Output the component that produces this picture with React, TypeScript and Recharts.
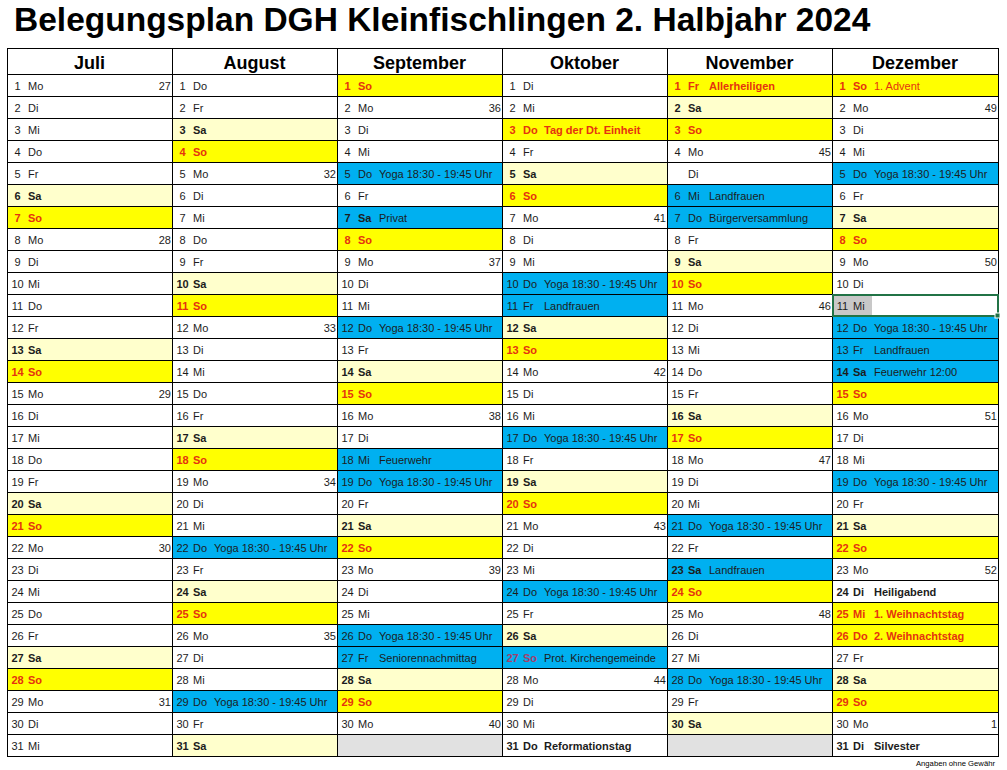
import { ScatterChart, Scatter, XAxis, YAxis } from "recharts";

const MONTHS = ["Juli", "August", "September", "Oktober", "November", "Dezember"];
const DAYS_IN_MONTH = [31, 31, 30, 31, 30, 31];

// weekday of each day, one string per month
const WEEKDAYS = [
  "Mo Di Mi Do Fr Sa So Mo Di Mi Do Fr Sa So Mo Di Mi Do Fr Sa So Mo Di Mi Do Fr Sa So Mo Di Mi",
  "Do Fr Sa So Mo Di Mi Do Fr Sa So Mo Di Mi Do Fr Sa So Mo Di Mi Do Fr Sa So Mo Di Mi Do Fr Sa",
  "So Mo Di Mi Do Fr Sa So Mo Di Mi Do Fr Sa So Mo Di Mi Do Fr Sa So Mo Di Mi Do Fr Sa So Mo",
  "Di Mi Do Fr Sa So Mo Di Mi Do Fr Sa So Mo Di Mi Do Fr Sa So Mo Di Mi Do Fr Sa So Mo Di Mi Do",
  "Fr Sa So Mo Di Mi Do Fr Sa So Mo Di Mi Do Fr Sa So Mo Di Mi Do Fr Sa So Mo Di Mi Do Fr Sa",
  "So Mo Di Mi Do Fr Sa So Mo Di Mi Do Fr Sa So Mo Di Mi Do Fr Sa So Mo Di Mi Do Fr Sa So Mo Di",
];

// [month, day, calendar week]
const WEEK_NUMBERS: [number, number, number][] = [
  [0, 1, 27], [0, 8, 28], [0, 15, 29], [0, 22, 30], [0, 29, 31],
  [1, 5, 32], [1, 12, 33], [1, 19, 34], [1, 26, 35],
  [2, 2, 36], [2, 9, 37], [2, 16, 38], [2, 23, 39], [2, 30, 40],
  [3, 7, 41], [3, 14, 42], [3, 21, 43], [3, 28, 44],
  [4, 4, 45], [4, 11, 46], [4, 18, 47], [4, 25, 48],
  [5, 2, 49], [5, 9, 50], [5, 16, 51], [5, 23, 52], [5, 30, 1],
];

const YOGA = "Yoga 18:30 - 19:45 Uhr";

// [month, day, text] - booked days (blue)
const BOOKINGS: [number, number, string][] = [
  [1, 22, YOGA], [1, 29, YOGA],
  [2, 5, YOGA], [2, 7, "Privat"], [2, 12, YOGA], [2, 18, "Feuerwehr"], [2, 19, YOGA],
  [2, 26, YOGA], [2, 27, "Seniorennachmittag"],
  [3, 10, YOGA], [3, 11, "Landfrauen"], [3, 17, YOGA], [3, 24, YOGA], [3, 27, "Prot. Kirchengemeinde"],
  [4, 6, "Landfrauen"], [4, 7, "Bürgerversammlung"], [4, 21, YOGA], [4, 23, "Landfrauen"], [4, 28, YOGA],
  [5, 5, YOGA], [5, 12, YOGA], [5, 13, "Landfrauen"], [5, 14, "Feuerwehr 12:00"], [5, 19, YOGA],
];

const HOLIDAYS: [number, number, string][] = [
  [3, 3, "Tag der Dt. Einheit"],
  [4, 1, "Allerheiligen"],
  [5, 25, "1. Weihnachtstag"],
  [5, 26, "2. Weihnachtstag"],
];
const SUNDAY_NOTES: [number, number, string][] = [[5, 1, "1. Advent"]];
const SPECIAL_DAYS: [number, number, string][] = [
  [3, 31, "Reformationstag"],
  [5, 24, "Heiligabend"],
  [5, 31, "Silvester"],
];
const NO_DAY_NUMBER: [number, number][] = [[4, 5]];
const SELECTED: [number, number][] = [[5, 11]];

const FONT = "'Liberation Sans', Arial, sans-serif";
const CHART_W = 1007;
const CHART_H = 770;
const PLOT_LEFT = 7;
const PLOT_TOP = 74;
const PLOT_W = 991;
const PLOT_H = 682;
const HEADER_H = 26;
const CELL_W = PLOT_W / MONTHS.length;
const CELL_H = PLOT_H / 31;

const BLUE = "#00b0f0";
const YELLOW = "#ffff00";
const PALE = "#ffffcc";
const RED = "#e5330f";
const INK = "#1c1c1c";

type Kind = "plain" | "sat" | "sun" | "booked" | "holiday" | "special" | "empty";

interface DayCell {
  x: number;
  y: number;
  day: number;
  weekday: string;
  note: string;
  week: string;
  kind: Kind;
  showDay: boolean;
  selected: boolean;
}

const find = <T extends [number, number, ...any[]]>(list: T[], m: number, d: number) =>
  list.find((e) => e[0] === m && e[1] === d);

const cells: DayCell[] = MONTHS.flatMap((_, m) => {
  const wd = WEEKDAYS[m].split(" ");
  return Array.from({ length: 31 }, (_, i) => {
    const day = i + 1;
    const weekday = wd[i] ?? "";
    let kind: Kind = weekday === "Sa" ? "sat" : weekday === "So" ? "sun" : "plain";
    let note = "";
    const booking = find(BOOKINGS, m, day);
    const holiday = find(HOLIDAYS, m, day);
    const special = find(SPECIAL_DAYS, m, day);
    const sundayNote = find(SUNDAY_NOTES, m, day);
    if (booking) { kind = "booked"; note = booking[2]; }
    if (holiday) { kind = "holiday"; note = holiday[2]; }
    if (special) { kind = "special"; note = special[2]; }
    if (sundayNote) note = sundayNote[2];
    if (day > DAYS_IN_MONTH[m]) kind = "empty";
    const wk = find(WEEK_NUMBERS, m, day);
    return {
      x: m + 0.5,
      y: i + 0.5,
      day,
      weekday,
      note,
      week: wk ? String(wk[2]) : "",
      kind,
      showDay: !find(NO_DAY_NUMBER, m, day),
      selected: !!find(SELECTED, m, day),
    };
  });
});

const selection = cells.filter((c) => c.selected);

const FILLS: Record<Kind, string> = {
  plain: "#ffffff",
  sat: PALE,
  sun: YELLOW,
  booked: BLUE,
  holiday: YELLOW,
  special: "#ffffff",
  empty: "#e1e1e1",
};

function box(cx: number, cy: number) {
  const left = Math.floor(cx - CELL_W / 2 + 0.01);
  const right = Math.floor(cx + CELL_W / 2 + 0.01);
  const top = Math.round(cy - CELL_H / 2);
  return { left, right, top };
}

function FillShape(props: any) {
  const { cx, cy, payload } = props;
  const c = payload as DayCell;
  const { left, right, top } = box(cx, cy);
  return (
    <g>
      <rect x={left} y={top} width={right - left} height={CELL_H} fill={FILLS[c.kind]} />
      {c.selected && <rect x={left + 1} y={top + 2} width={39} height={19} fill="#c8c8c8" />}
    </g>
  );
}

function TextShape(props: any) {
  const { cx, cy, payload } = props;
  const c = payload as DayCell;
  const { left, right, top } = box(cx, cy);
  const base = top + 16;
  if (c.kind === "empty") {
    return <rect x={left + 0.5} y={top + 0.5} width={right - left} height={CELL_H} fill="none" stroke="#000" />;
  }
  const weekend = c.weekday === "Sa" || c.weekday === "So";
  const boldLabel = weekend || c.kind === "holiday" || c.kind === "special";
  let labelColor = INK;
  if (c.weekday === "So" || c.kind === "holiday") labelColor = RED;
  if (c.kind === "booked" && c.weekday === "So") labelColor = "#a23f6c";
  const noteBold = c.kind === "holiday" || c.kind === "special";
  const noteColor = c.kind === "holiday" || c.kind === "sun" ? RED : INK;
  const fw = boldLabel ? 700 : 400;
  return (
    <g fontFamily={FONT} fontSize={11}>
      <rect x={left + 0.5} y={top + 0.5} width={right - left} height={CELL_H} fill="none" stroke="#000" />
      {c.showDay && (
        <text x={left + 10.5} y={base} textAnchor="middle" fontWeight={fw} fill={labelColor}>
          {c.day}
        </text>
      )}
      <text x={left + 21} y={base} fontWeight={fw} fill={labelColor}>
        {c.weekday}
      </text>
      {c.note && (
        <text x={left + 42} y={base} fontWeight={noteBold ? 700 : 400} fill={noteColor}>
          {c.note}
        </text>
      )}
      {c.week && (
        <text x={right - 1} y={base} textAnchor="end" fill={INK}>
          {c.week}
        </text>
      )}
    </g>
  );
}

function SelectionShape(props: any) {
  const { cx, cy } = props;
  const { left, right, top } = box(cx, cy);
  return (
    <g>
      <rect x={left + 1} y={top + 1} width={right - left - 1} height={CELL_H - 1} fill="none" stroke="#217346" strokeWidth={2} />
      <rect x={right - 3} y={top + CELL_H - 3} width={5} height={5} fill="#217346" stroke="#fff" strokeWidth={1} />
    </g>
  );
}

function HeaderTick(props: any) {
  const { x, payload } = props;
  const left = Math.floor(x - CELL_W / 2 + 0.01);
  const right = Math.floor(x + CELL_W / 2 + 0.01);
  const idx = Math.round(payload.value - 0.5);
  return (
    <g>
      <rect x={left + 0.5} y={PLOT_TOP - HEADER_H + 0.5} width={right - left} height={HEADER_H} fill="#fff" stroke="#000" />
      <text x={(left + right) / 2} y={PLOT_TOP - 5.5} textAnchor="middle" fontFamily={FONT} fontWeight={700} fontSize={18} fill="#000">
        {MONTHS[idx]}
      </text>
    </g>
  );
}

export default function App() {
  return (
    <div style={{ position: "absolute", left: 0, top: 0, width: CHART_W, height: CHART_H, background: "#fff" }}>
      <ScatterChart
        width={CHART_W}
        height={CHART_H}
        margin={{ top: PLOT_TOP - HEADER_H, right: CHART_W - PLOT_LEFT - PLOT_W, bottom: CHART_H - PLOT_TOP - PLOT_H, left: PLOT_LEFT }}
      >
        <XAxis
          type="number"
          dataKey="x"
          orientation="top"
          domain={[0, MONTHS.length]}
          ticks={MONTHS.map((_, i) => i + 0.5)}
          interval={0}
          height={HEADER_H}
          axisLine={false}
          tickLine={false}
          tick={<HeaderTick />}
        />
        <YAxis type="number" dataKey="y" domain={[0, 31]} reversed hide width={0} />
        <Scatter data={cells} shape={<FillShape />} isAnimationActive={false} />
        <Scatter data={cells} shape={<TextShape />} isAnimationActive={false} />
        <Scatter data={selection} shape={<SelectionShape />} isAnimationActive={false} />
      </ScatterChart>
      <svg width={CHART_W} height={CHART_H} style={{ position: "absolute", left: 0, top: 0, pointerEvents: "none" }}>
        <text x={14} y={31} fontFamily={FONT} fontWeight={700} fontSize={33.5} fill="#000">
          Belegungsplan DGH Kleinfischlingen 2. Halbjahr 2024
        </text>
        <text x={995} y={766} textAnchor="end" fontFamily={FONT} fontSize={7.7} fill="#000">
          Angaben ohne Gewähr
        </text>
      </svg>
    </div>
  );
}
